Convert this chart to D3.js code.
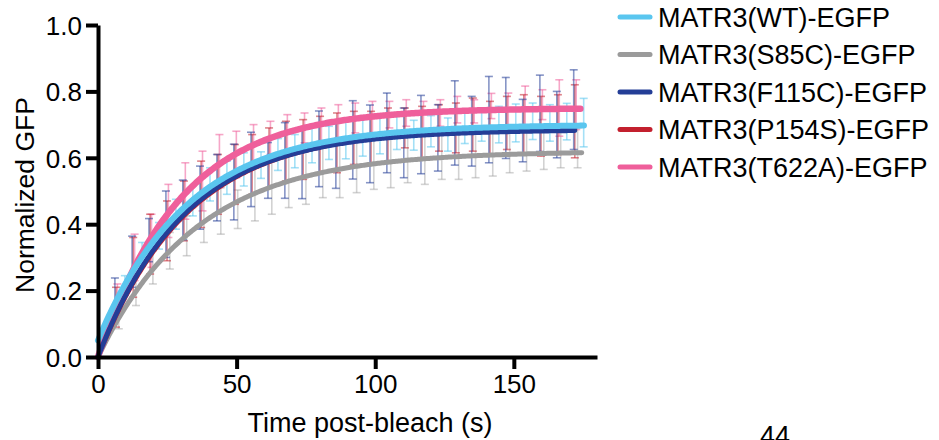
<!DOCTYPE html>
<html>
<head>
<meta charset="utf-8">
<script src="https://cdnjs.cloudflare.com/ajax/libs/d3/7.8.5/d3.min.js"></script>
<style>
  body { margin: 0; background: #fff; }
  svg { display: block; font-family: "Liberation Sans", Arial, Helvetica, sans-serif; }
</style>
</head>
<body>
<svg width="939" height="440"></svg>
<script>
var width = 939, height = 440;

var seriesNames = ["MATR3(WT)-EGFP", "MATR3(S85C)-EGFP", "MATR3(F115C)-EGFP", "MATR3(P154S)-EGFP", "MATR3(T622A)-EGFP"];
var seriesColors = ["#5ac6ef", "#9b9b9b", "#243e97", "#c3202e", "#ef5f9b"];

// frame times (s), each construct acquired with a small lag
var frameTimes = [6.1, 12.3, 18.4, 24.5, 30.6, 36.8, 42.9, 49.0, 55.2, 61.3, 67.4, 73.6, 79.7, 85.8,
                  91.9, 98.1, 104.2, 110.3, 116.5, 122.6, 128.7, 134.8, 141.0, 147.1, 153.2, 159.4, 165.5, 171.6];
var frameLag = [3.6, 1.4, 0, 0.4, 0.9];

var meanWT    = [0.215, 0.31, 0.365, 0.43, 0.47, 0.52, 0.54, 0.565, 0.578, 0.61, 0.62, 0.64, 0.645, 0.655,
                 0.66, 0.67, 0.675, 0.668, 0.68, 0.67, 0.69, 0.70, 0.70, 0.705, 0.71, 0.705, 0.709, 0.706];
var errWT     = [0.03, 0.035, 0.04, 0.045, 0.045, 0.05, 0.05, 0.05, 0.04, 0.048, 0.05, 0.055, 0.05, 0.058,
                 0.055, 0.058, 0.05, 0.045, 0.047, 0.05, 0.047, 0.05, 0.055, 0.057, 0.055, 0.055, 0.055, 0.073];
var meanS85C  = [0.12, 0.20, 0.27, 0.32, 0.365, 0.41, 0.44, 0.445, 0.49, 0.51, 0.535, 0.54, 0.56, 0.565,
                 0.58, 0.585, 0.59, 0.60, 0.60, 0.605, 0.61, 0.61, 0.615, 0.62, 0.62, 0.625, 0.625, 0.63];
var errS85C   = [0.035, 0.045, 0.05, 0.055, 0.06, 0.065, 0.07, 0.058, 0.08, 0.08, 0.085, 0.08, 0.08, 0.085,
                 0.085, 0.08, 0.08, 0.075, 0.08, 0.07, 0.075, 0.07, 0.07, 0.065, 0.06, 0.06, 0.055, 0.06];
var meanF115C = [0.18, 0.287, 0.352, 0.40, 0.443, 0.48, 0.51, 0.527, 0.565, 0.562, 0.592, 0.582, 0.627, 0.606,
                 0.654, 0.642, 0.675, 0.645, 0.67, 0.66, 0.705, 0.68, 0.715, 0.72, 0.682, 0.734, 0.70, 0.745];
var errF115C  = [0.058, 0.077, 0.065, 0.10, 0.09, 0.095, 0.10, 0.114, 0.112, 0.084, 0.114, 0.105, 0.114, 0.098,
                 0.118, 0.117, 0.12, 0.105, 0.118, 0.10, 0.127, 0.105, 0.13, 0.122, 0.094, 0.115, 0.10, 0.12];
var meanP154S = [0.15, 0.27, 0.34, 0.38, 0.44, 0.49, 0.52, 0.55, 0.58, 0.60, 0.62, 0.625, 0.64, 0.645,
                 0.66, 0.66, 0.67, 0.69, 0.675, 0.69, 0.69, 0.70, 0.69, 0.705, 0.70, 0.695, 0.70, 0.71];
var errP154S  = [0.06, 0.09, 0.09, 0.09, 0.09, 0.10, 0.09, 0.09, 0.09, 0.09, 0.09, 0.09, 0.085, 0.09,
                 0.08, 0.08, 0.08, 0.06, 0.08, 0.07, 0.075, 0.08, 0.08, 0.08, 0.09, 0.09, 0.09, 0.11];
var meanT622A = [0.17, 0.30, 0.35, 0.44, 0.50, 0.53, 0.59, 0.61, 0.64, 0.66, 0.67, 0.69, 0.70, 0.71,
                 0.72, 0.72, 0.73, 0.735, 0.725, 0.735, 0.745, 0.74, 0.756, 0.745, 0.753, 0.76, 0.75, 0.76];
var errT622A  = [0.05, 0.07, 0.08, 0.08, 0.085, 0.09, 0.08, 0.07, 0.06, 0.05, 0.06, 0.045, 0.05, 0.05,
                 0.045, 0.05, 0.04, 0.04, 0.045, 0.04, 0.04, 0.035, 0.038, 0.05, 0.063, 0.045, 0.085, 0.075];

// one-phase association fits: y = y0 + (plateau - y0) * (1 - exp(-k t))
var fitStart   = [0.05, 0, 0, 0, 0];
var fitPlateau = [0.70, 0.62, 0.685, 0.69, 0.75];
var fitRate    = [0.0308, 0.028, 0.0318, 0.031, 0.034];
var fitEnd     = [175.3, 174.5, 172, 172, 174];

var xTicks = [0, 50, 100, 150];
var yTicks = [0, 0.2, 0.4, 0.6, 0.8, 1.0];

var means = [meanWT, meanS85C, meanF115C, meanP154S, meanT622A];
var errs = [errWT, errS85C, errF115C, errP154S, errT622A];

var svg = d3.select("svg");

var x = d3.scaleLinear().domain([0, 180]).range([98, 597]);
var y = d3.scaleLinear().domain([0, 1]).range([357, 25]);

// error bars
var capW = 4;
var barOrder = [1, 0, 4, 3, 2];
barOrder.forEach(function(s) {
  var pts = frameTimes.map(function(t, i) {
    return {t: t + frameLag[s], m: means[s][i], e: errs[s][i]};
  });
  var g = svg.append("g")
      .attr("stroke", seriesColors[s])
      .attr("stroke-opacity", s == 1 ? 0.45 : 0.55)
      .attr("stroke-width", 1.6)
      .attr("fill", "none");
  var bar = g.selectAll("g").data(pts).enter().append("g");
  bar.append("line")
      .attr("x1", function(d) { return x(d.t); })
      .attr("x2", function(d) { return x(d.t); })
      .attr("y1", function(d) { return y(d.m + d.e); })
      .attr("y2", function(d) { return y(d.m - d.e); });
  bar.append("line")
      .attr("x1", function(d) { return x(d.t) - capW; })
      .attr("x2", function(d) { return x(d.t) + capW; })
      .attr("y1", function(d) { return y(d.m + d.e); })
      .attr("y2", function(d) { return y(d.m + d.e); });
  bar.append("line")
      .attr("x1", function(d) { return x(d.t) - capW; })
      .attr("x2", function(d) { return x(d.t) + capW; })
      .attr("y1", function(d) { return y(d.m - d.e); })
      .attr("y2", function(d) { return y(d.m - d.e); });
});

// fitted curves
var line = d3.line()
    .x(function(d) { return x(d[0]); })
    .y(function(d) { return y(d[1]); });

var curveOrder = [1, 3, 4, 2, 0];
var curveWidth = [6, 5, 5, 5, 6.5];
curveOrder.forEach(function(s) {
  var ts = d3.range(0, fitEnd[s], 0.5).concat([fitEnd[s]]);
  var pts = ts.map(function(t) {
    return [t, fitStart[s] + (fitPlateau[s] - fitStart[s]) * (1 - Math.exp(-fitRate[s] * t))];
  });
  svg.append("path")
      .datum(pts)
      .attr("d", line)
      .attr("fill", "none")
      .attr("stroke", seriesColors[s])
      .attr("stroke-width", curveWidth[s])
      .attr("stroke-linecap", "round");
});

// axes
var xAxis = svg.append("g")
    .attr("transform", "translate(0," + y(0) + ")")
    .call(d3.axisBottom(x).tickValues(xTicks).tickSize(12).tickSizeOuter(0).tickPadding(6)
      .tickFormat(d3.format("d")));

var yAxis = svg.append("g")
    .attr("transform", "translate(" + x(0) + ",0)")
    .call(d3.axisLeft(y).tickValues(yTicks).tickSize(12).tickSizeOuter(0).tickPadding(4)
      .tickFormat(d3.format(".1f")));

[xAxis, yAxis].forEach(function(a) {
  a.select(".domain").attr("stroke", "#000").attr("stroke-width", 4);
  a.selectAll(".tick line").attr("stroke", "#000").attr("stroke-width", 4);
  a.selectAll(".tick text")
      .attr("fill", "#000")
      .style("font-size", "26px")
      .style("font-family", "'Liberation Sans', Arial, Helvetica, sans-serif");
});
yAxis.selectAll(".tick text").attr("dy", "0.36em");

svg.append("text")
    .attr("x", 370)
    .attr("y", 432)
    .attr("text-anchor", "middle")
    .style("font-size", "27px")
    .text("Time post-bleach (s)");

svg.append("text")
    .attr("transform", "translate(34,195) rotate(-90)")
    .attr("text-anchor", "middle")
    .style("font-size", "26.5px")
    .text("Normalized GFP");

// legend
var legend = svg.append("g")
    .selectAll("g")
    .data(seriesNames)
  .enter().append("g")
    .attr("transform", function(d, i) { return "translate(620," + (17 + i * 37.5) + ")"; });

legend.append("line")
    .attr("x1", 0)
    .attr("x2", 30)
    .attr("stroke", function(d, i) { return seriesColors[i]; })
    .attr("stroke-width", 5)
    .attr("stroke-linecap", "round");

legend.append("text")
    .attr("x", 38)
    .attr("dy", "0.36em")
    .style("font-size", "27px")
    .text(function(d) { return d; });

// page number
svg.append("text")
    .attr("x", 775)
    .attr("y", 445)
    .attr("text-anchor", "middle")
    .style("font-size", "27px")
    .text("44");
</script>
</body>
</html>
